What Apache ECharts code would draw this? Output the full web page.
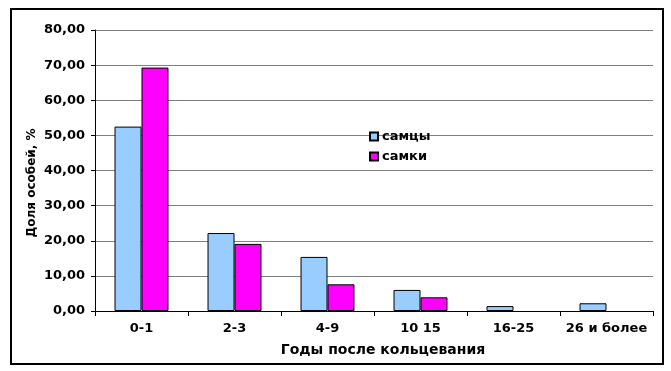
<!DOCTYPE html>
<html>
<head>
<meta charset="utf-8">
<script src="https://cdn.jsdelivr.net/npm/echarts@6/dist/echarts.min.js"></script>
<style>
  body { margin: 0; background: #fff; }
  #frame { position: absolute; left: 10px; top: 8px; width: 654px; height: 357px; border: 2px solid #000; box-sizing: border-box; }
  #chart { position: absolute; left: 0; top: 0; width: 671px; height: 371px; }
</style>
</head>
<body>
<div id="frame"></div>
<div id="chart"></div>
<script>
// данные
var categories = ['0-1', '2-3', '4-9', '10 15', '16-25', '26 и более'];
var males = [52.5, 22.2, 15.4, 6.0, 1.4, 2.2];
var females = [69.3, 19.1, 7.6, 3.9, 0, 0];
var yTicks = [0, 80, 10]; // min, max, шаг

var chart = echarts.init(document.getElementById('chart'));
var font = 'DejaVu Sans, sans-serif';

// нулевые столбики не рисуем (в оригинале их нет)
function noZero(arr) {
  return arr.map(function (v) { return v === 0 ? '-' : v; });
}

var option = {
  animation: false,
  textStyle: { fontFamily: font },
  grid: { left: 95, right: 18, top: 30, bottom: 60 },
  legend: {
    orient: 'vertical',
    left: 364, top: 125,
    itemWidth: 8, itemHeight: 8, itemGap: 7,
    icon: 'rect',
    textStyle: { fontSize: 13, fontWeight: 'bold', color: '#000', fontFamily: font, padding: [0, 0, 0, -1] },
    data: ['самцы', 'самки']
  },
  graphic: [{
    type: 'text',
    x: 32, y: 183, rotation: Math.PI / 2,
    style: {
      text: 'Доля особей, %',
      font: 'bold 12px ' + font,
      fill: '#000',
      align: 'center', verticalAlign: 'middle'
    }
  }, {
    type: 'text',
    x: 383, y: 350,
    style: {
      text: 'Годы после кольцевания',
      font: 'bold 14px ' + font,
      fill: '#000',
      align: 'center', verticalAlign: 'middle'
    }
  }],
  xAxis: {
    type: 'category',
    data: categories,
    axisLine: { lineStyle: { color: '#000', width: 1 } },
    axisTick: { show: true, length: 5, lineStyle: { color: '#000' } },
    axisLabel: { interval: 0, fontSize: 13, fontWeight: 'bold', color: '#000', margin: 11 }
  },
  yAxis: {
    type: 'value',
    min: yTicks[0], max: yTicks[1], interval: yTicks[2],
    axisLine: { show: true, lineStyle: { color: '#000' } },
    axisTick: { show: true, length: 4, lineStyle: { color: '#000' } },
    axisLabel: {
      fontSize: 13, fontWeight: 'bold', color: '#000', margin: 10,
      formatter: function (v) { return v.toFixed(2).replace('.', ','); }
    },
    splitLine: { lineStyle: { color: '#808080', width: 1 } }
  },
  series: [
    {
      name: 'самцы', type: 'bar', data: noZero(males),
      barGap: '0%', barCategoryGap: '42%',
      itemStyle: { color: '#99ccff', borderColor: '#000', borderWidth: 1 }
    },
    {
      name: 'самки', type: 'bar', data: noZero(females),
      itemStyle: { color: '#ff00ff', borderColor: '#000', borderWidth: 1 }
    }
  ]
};
chart.setOption(option);
</script>
</body>
</html>
